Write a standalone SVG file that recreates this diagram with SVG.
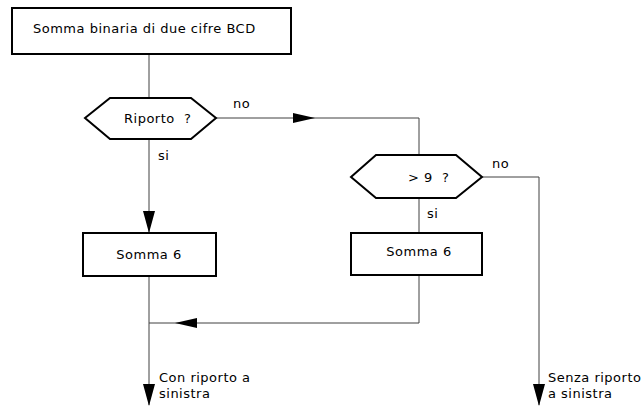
<svg xmlns="http://www.w3.org/2000/svg" width="642" height="407" viewBox="0 0 642 407">
  <style>
    .box { fill: #ffffff; stroke: #000000; stroke-width: 2; }
    .line { fill: none; stroke: #404040; stroke-width: 1; }
    .head { fill: #000000; stroke: none; }
    text { font-family: "DejaVu Sans", Verdana, sans-serif; font-size: 13px; letter-spacing: 0.5px; fill: #000000; white-space: pre; }
  </style>
  <rect width="642" height="407" fill="#ffffff"/>

  <!-- connectors -->
  <g id="connectors">
    <line class="line" x1="149" y1="54" x2="149" y2="98"/>
    <polyline class="line" points="216,118 419,118 419,155"/>
    <polygon class="head" points="293,113 315,118 293,123"/>
    <line class="line" x1="149" y1="139" x2="149" y2="233"/>
    <polygon class="head" points="143,211 149,233 155,211"/>
    <polyline class="line" points="482,177 539,177 539,405"/>
    <polygon class="head" points="533,384 539,406 545,384"/>
    <line class="line" x1="419" y1="198" x2="419" y2="233"/>
    <polyline class="line" points="419,275 419,323 149,323"/>
    <polygon class="head" points="197,318 175,323 197,328"/>
    <line class="line" x1="149" y1="276" x2="149" y2="405"/>
    <polygon class="head" points="143,384 149,406 155,384"/>
    <text x="233" y="108">no</text>
    <text x="158" y="160">si</text>
    <text x="492" y="168">no</text>
    <text x="427" y="218">si</text>
    <text x="159" y="382">Con riporto a</text>
    <text x="159" y="398">sinistra</text>
    <text x="548" y="382">Senza riporto</text>
    <text x="548" y="398">a sinistra</text>
  </g>

  <g id="start">
    <rect class="box" x="12" y="8" width="279" height="46"/>
    <text x="33" y="33">Somma binaria di due cifre BCD</text>
  </g>

  <g id="carry-test">
    <polygon class="box" points="85,118 110,98 191,98 216,118 191,139 110,139"/>
    <text x="124" y="123" xml:space="preserve">Riporto  ?</text>
  </g>

  <g id="add6-left">
    <rect class="box" x="83" y="233" width="133" height="43"/>
    <text x="149" y="259" text-anchor="middle">Somma 6</text>
  </g>

  <g id="gt9-test">
    <polygon class="box" points="351,177 376,155 456,155 482,177 456,198 376,198"/>
    <text x="408" y="182" xml:space="preserve">&gt; 9  ?</text>
  </g>

  <g id="add6-right">
    <rect class="box" x="351" y="233" width="131" height="42"/>
    <text x="419" y="256" text-anchor="middle">Somma 6</text>
  </g>
</svg>
